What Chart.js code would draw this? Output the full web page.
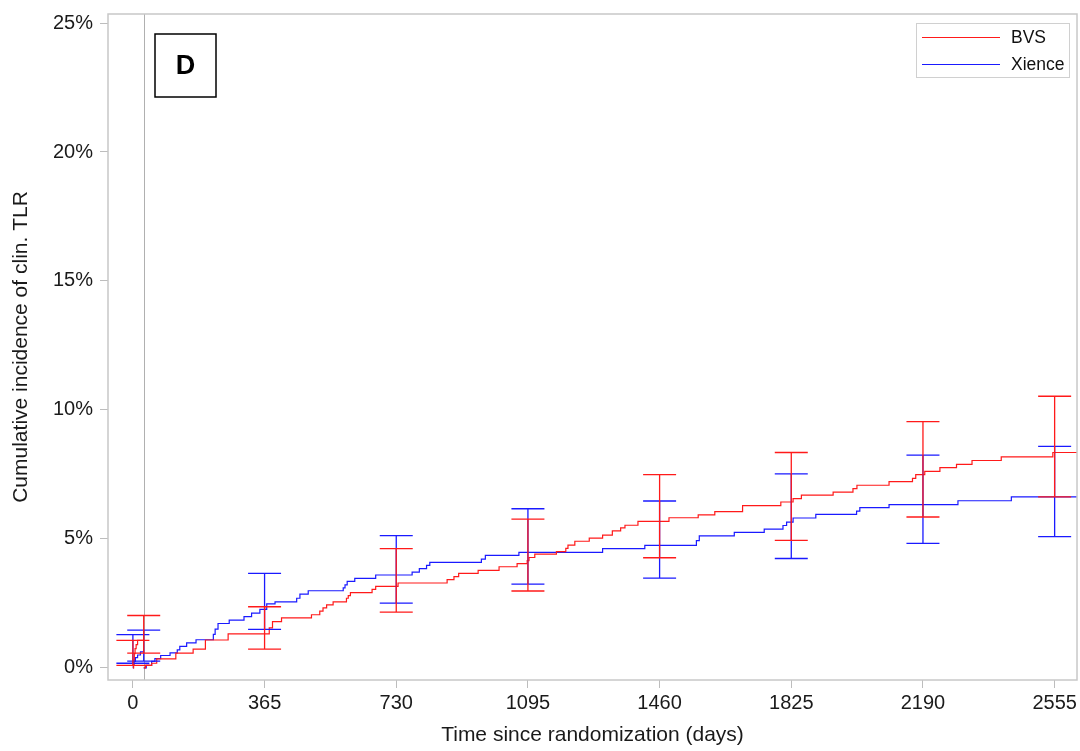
<!DOCTYPE html>
<html lang="en">
<head>
<meta charset="UTF-8">
<title>Cumulative incidence of clin. TLR</title>
<script src="https://cdn.jsdelivr.net/npm/chart.js"></script>
<style>
  body { margin: 0; background: #fff; }
  #wrap { width: 1080px; height: 751px; position: relative; }
</style>
</head>
<body>
<div id="wrap"><canvas id="cif"></canvas></div>
<script>
// landmark at 30 days: both curves restart from zero there
const landmarkDay = 30;
const xTicks = [0, 365, 730, 1095, 1460, 1825, 2190, 2555];
const yTicks = [0, 5, 10, 15, 20, 25];

// step curves as [day, cumulative %]
const bvsEarly = [[0,0],[2,0.12],[3,0.3],[4,0.55],[6,0.75],[9,0.9],[13,1.07],[30,1.07]];
const xienceEarly = [[0,0],[1,0.12],[3,0.25],[7,0.4],[13,0.5],[21,0.62],[30,0.62]];

const bvsLate = [[30,0],[35,0.1],[52,0.18],[66,0.35],[119,0.57],[167,0.73],[201,1.08],[264,1.32],
  [378,1.55],[387,1.79],[412,1.94],[495,2.06],[518,2.2],[527,2.33],[537,2.44],[555,2.56],[592,2.7],
  [597,2.8],[603,2.92],[663,3.04],[673,3.16],[735,3.29],[871,3.42],[890,3.54],[903,3.66],[957,3.78],
  [1015,3.92],[1065,4.04],[1093,4.16],[1098,4.28],[1114,4.41],[1174,4.51],[1200,4.63],[1206,4.76],
  [1225,4.91],[1265,5.03],[1302,5.15],[1329,5.31],[1352,5.43],[1364,5.53],[1400,5.68],[1486,5.82],
  [1567,5.93],[1613,6.06],[1690,6.29],[1796,6.43],[1830,6.56],[1853,6.7],[1941,6.81],[1996,6.95],
  [2007,7.08],[2096,7.22],[2161,7.35],[2170,7.49],[2195,7.62],[2237,7.76],[2283,7.89],[2326,8.04],
  [2407,8.18],[2550,8.35],[2620,8.35]];

const xienceLate = [[30,0],[37,0.1],[52,0.25],[61,0.36],[77,0.48],[103,0.58],[123,0.7],[130,0.83],
  [149,0.97],[175,1.09],[223,1.3],[228,1.5],[236,1.72],[267,1.85],[308,1.99],[329,2.12],[352,2.27],
  [371,2.48],[394,2.56],[454,2.7],[463,2.86],[486,2.99],[583,3.1],[588,3.22],[594,3.35],[615,3.47],
  [673,3.6],[774,3.71],[794,3.85],[814,3.97],[823,4.09],[966,4.22],[977,4.36],[1070,4.48],[1302,4.62],
  [1419,4.75],[1562,4.93],[1570,5.12],[1667,5.25],[1750,5.38],[1802,5.52],[1812,5.65],[1830,5.81],
  [1893,5.95],[2006,6.08],[2015,6.21],[2096,6.33],[2287,6.48],[2435,6.63],[2620,6.63]];

// 95% confidence limits
const ciDays = [0, 30, 365, 730, 1095, 1460, 1825, 2190, 2555];
const bvsLo = [0.10, 0.57, 0.73, 2.16, 2.98, 4.27, 4.94, 5.85, 6.63];
const bvsHi = [1.07, 2.03, 2.37, 4.62, 5.77, 7.49, 8.35, 9.55, 10.53];
const xienceLo = [0.18, 0.26, 1.49, 2.51, 3.25, 3.48, 4.24, 4.83, 5.09];
const xienceHi = [1.29, 1.46, 3.66, 5.13, 6.17, 6.47, 7.52, 8.25, 8.59];

const RED = '#ff1a1a';
const BLUE = '#1a1aff';
const FONT = "'Liberation Sans', Arial, sans-serif";

const toXY = arr => arr.map(([x, y]) => ({ x, y }));

function stepSet(label, data, color, hidden) {
  return {
    label, data: toXY(data),
    borderColor: color, borderWidth: 1.2,
    stepped: 'before', pointRadius: 0, fill: false,
    inLegend: !hidden
  };
}

const bars = [
  { color: BLUE, lo: xienceLo, hi: xienceHi },
  { color: RED, lo: bvsLo, hi: bvsHi }
];

const decor = {
  id: 'decor',
  beforeDatasetsDraw(chart) {
    const { ctx, chartArea: a, scales: { x } } = chart;
    const lx = Math.round(x.getPixelForValue(landmarkDay)) + 0.5;
    ctx.save();
    ctx.strokeStyle = '#b0b0b0';
    ctx.lineWidth = 1;
    ctx.beginPath();
    ctx.moveTo(lx, a.top);
    ctx.lineTo(lx, a.bottom);
    ctx.stroke();
    ctx.restore();
  },
  afterDatasetsDraw(chart) {
    const { ctx, chartArea: a, scales: { x, y } } = chart;
    ctx.save();

    // confidence interval bars
    const half = 16.5;
    ctx.lineWidth = 1.3;
    bars.forEach(b => {
      ctx.strokeStyle = b.color;
      ciDays.forEach((d, i) => {
        const px = x.getPixelForValue(d);
        const y0 = y.getPixelForValue(b.lo[i]);
        const y1 = y.getPixelForValue(b.hi[i]);
        ctx.beginPath();
        ctx.moveTo(px, y0); ctx.lineTo(px, y1);
        ctx.moveTo(px - half, y0); ctx.lineTo(px + half, y0);
        ctx.moveTo(px - half, y1); ctx.lineTo(px + half, y1);
        ctx.stroke();
      });
    });

    // plot frame
    ctx.strokeStyle = '#c8c8c8';
    ctx.lineWidth = 1.5;
    ctx.strokeRect(a.left, a.top, a.right - a.left, a.bottom - a.top);

    // panel letter
    const bx = a.left + 47, by = a.top + 20;
    ctx.fillStyle = '#fff';
    ctx.fillRect(bx, by, 61, 63);
    ctx.strokeStyle = '#000';
    ctx.lineWidth = 1.5;
    ctx.strokeRect(bx, by, 61, 63);
    ctx.fillStyle = '#000';
    ctx.font = 'bold 27px ' + FONT;
    ctx.textAlign = 'center';
    ctx.textBaseline = 'middle';
    ctx.fillText('D', bx + 30.5, by + 33);

    // legend
    const items = chart.data.datasets.filter(ds => ds.inLegend);
    const lw = 153, lh = 54;
    const lx = a.right - 8 - lw, ly = a.top + 9;
    ctx.fillStyle = '#fff';
    ctx.fillRect(lx, ly, lw, lh);
    ctx.strokeStyle = '#d0d0d0';
    ctx.lineWidth = 1;
    ctx.strokeRect(lx + 0.5, ly + 0.5, lw, lh);
    ctx.font = '17.5px ' + FONT;
    ctx.textAlign = 'left';
    items.forEach((ds, i) => {
      const ry = Math.round(ly + 14 + i * 26.5) + 0.5;
      ctx.strokeStyle = ds.borderColor;
      ctx.lineWidth = 1.2;
      ctx.beginPath();
      ctx.moveTo(lx + 6, ry);
      ctx.lineTo(lx + 84, ry);
      ctx.stroke();
      ctx.fillStyle = '#111';
      ctx.fillText(ds.label, lx + 95, ry + 1);
    });

    ctx.restore();
  }
};

new Chart(document.getElementById('cif'), {
  type: 'line',
  data: {
    datasets: [
      stepSet('BVS', bvsLate, RED),
      stepSet('Xience', xienceLate, BLUE),
      stepSet('BVS', bvsEarly, RED, true),
      stepSet('Xience', xienceEarly, BLUE, true)
    ]
  },
  options: {
    responsive: true,
    maintainAspectRatio: false,
    animation: false,
    layout: { padding: { top: 14, right: 3, left: 9, bottom: 3 } },
    plugins: { legend: { display: false }, tooltip: { enabled: false } },
    scales: {
      x: {
        type: 'linear',
        min: -69, max: 2617,
        afterFit: s => { s.height = 68; s.paddingLeft = 0; s.paddingRight = 0; },
        afterBuildTicks: s => { s.ticks = xTicks.map(v => ({ value: v })); },
        grid: { drawOnChartArea: false, drawTicks: true, tickLength: 8, color: '#bdbdbd' },
        border: { display: false },
        ticks: { color: '#1a1a1a', font: { family: FONT, size: 20 }, padding: 3, maxRotation: 0, callback: v => String(v) },
        title: {
          display: true, text: 'Time since randomization (days)',
          color: '#1a1a1a', font: { family: FONT, size: 21 }, padding: { top: 1, bottom: 0 }
        }
      },
      y: {
        min: -0.47, max: 25.35,
        afterFit: s => { s.width = 99; s.paddingTop = 0; s.paddingBottom = 0; },
        afterBuildTicks: s => { s.ticks = yTicks.map(v => ({ value: v })); },
        grid: { drawOnChartArea: false, drawTicks: true, tickLength: 8, color: '#bdbdbd' },
        border: { display: false },
        ticks: { color: '#1a1a1a', font: { family: FONT, size: 20 }, padding: 7, callback: v => v + '%' },
        title: {
          display: true, text: 'Cumulative incidence of clin. TLR',
          color: '#1a1a1a', font: { family: FONT, size: 21 }, padding: { top: 0, bottom: 0 }
        }
      }
    }
  },
  plugins: [decor]
});
</script>
</body>
</html>
